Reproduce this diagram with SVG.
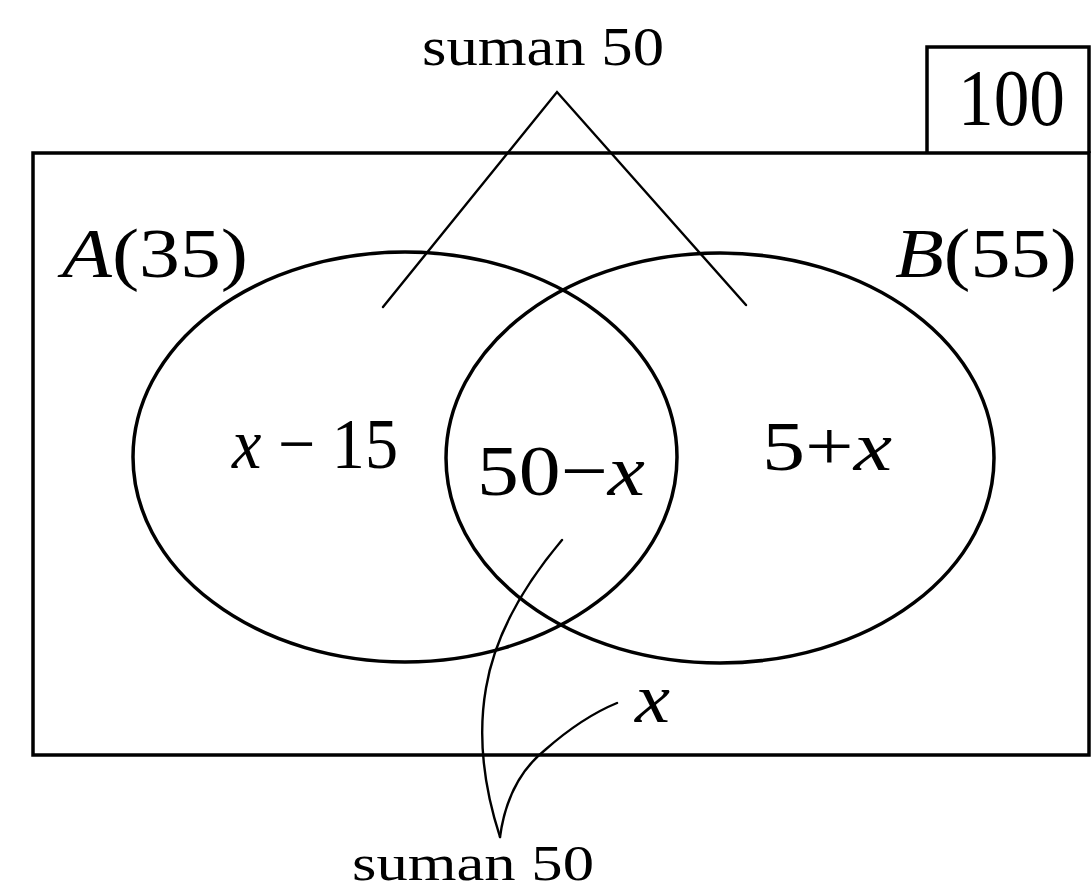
<svg xmlns="http://www.w3.org/2000/svg" width="1092" height="893" viewBox="0 0 1092 893">
<style>
.sh{fill:none;stroke:#000;stroke-width:3.5}
.ln{fill:none;stroke:#000;stroke-width:2.4;stroke-linecap:round}
.t{font-family:"Liberation Serif","DejaVu Serif",serif;fill:#000}
.i{font-style:italic}
</style>
<rect width="1092" height="893" fill="#fff"/>
<g id="universe">
<rect class="sh" x="33" y="153" width="1056" height="602"/>
</g>
<g id="total-box">
<path class="sh" d="M927,153 V47 H1089 V153"/>
<text class="t" x="958" y="125" font-size="80" textLength="107" lengthAdjust="spacingAndGlyphs">100</text>
</g>
<g id="setA">
<ellipse class="sh" cx="405" cy="457" rx="272" ry="205"/>
<text class="t" x="62" y="277" font-size="70" textLength="186" lengthAdjust="spacingAndGlyphs"><tspan class="i">A</tspan>(35)</text>
</g>
<g id="setB">
<ellipse class="sh" cx="720" cy="458" rx="274" ry="205"/>
<text class="t" x="895" y="277" font-size="70" textLength="182" lengthAdjust="spacingAndGlyphs"><tspan class="i">B</tspan>(55)</text>
</g>
<g id="onlyA">
<text class="t" x="232" y="468" font-size="72" textLength="166" lengthAdjust="spacingAndGlyphs"><tspan class="i">x</tspan> − 15</text>
</g>
<g id="AandB">
<text class="t" x="477" y="495" font-size="72" textLength="168" lengthAdjust="spacingAndGlyphs">50−<tspan class="i">x</tspan></text>
</g>
<g id="onlyB">
<text class="t" x="762" y="470" font-size="70" textLength="130" lengthAdjust="spacingAndGlyphs">5+<tspan class="i">x</tspan></text>
</g>
<g id="neither">
<text class="t i" x="635" y="722" font-size="70" textLength="35" lengthAdjust="spacingAndGlyphs">x</text>
</g>
<g id="sum-top">
<text class="t" x="422" y="65" font-size="54" textLength="242" lengthAdjust="spacingAndGlyphs">suman 50</text>
</g>
<g id="sum-bottom">
<text class="t" x="352" y="880" font-size="50" textLength="242" lengthAdjust="spacingAndGlyphs">suman 50</text>
</g>
<g id="connectors">
<path class="ln" d="M383,307 L557,92 L746,305"/>
<path class="ln" d="M562,540 C530,578 496,628 486,688 C476,745 488,800 500,837"/>
<path class="ln" d="M500,837 C505,800 520,770 545,750 C570,728 595,712 617,703"/>
</g>
</svg>
